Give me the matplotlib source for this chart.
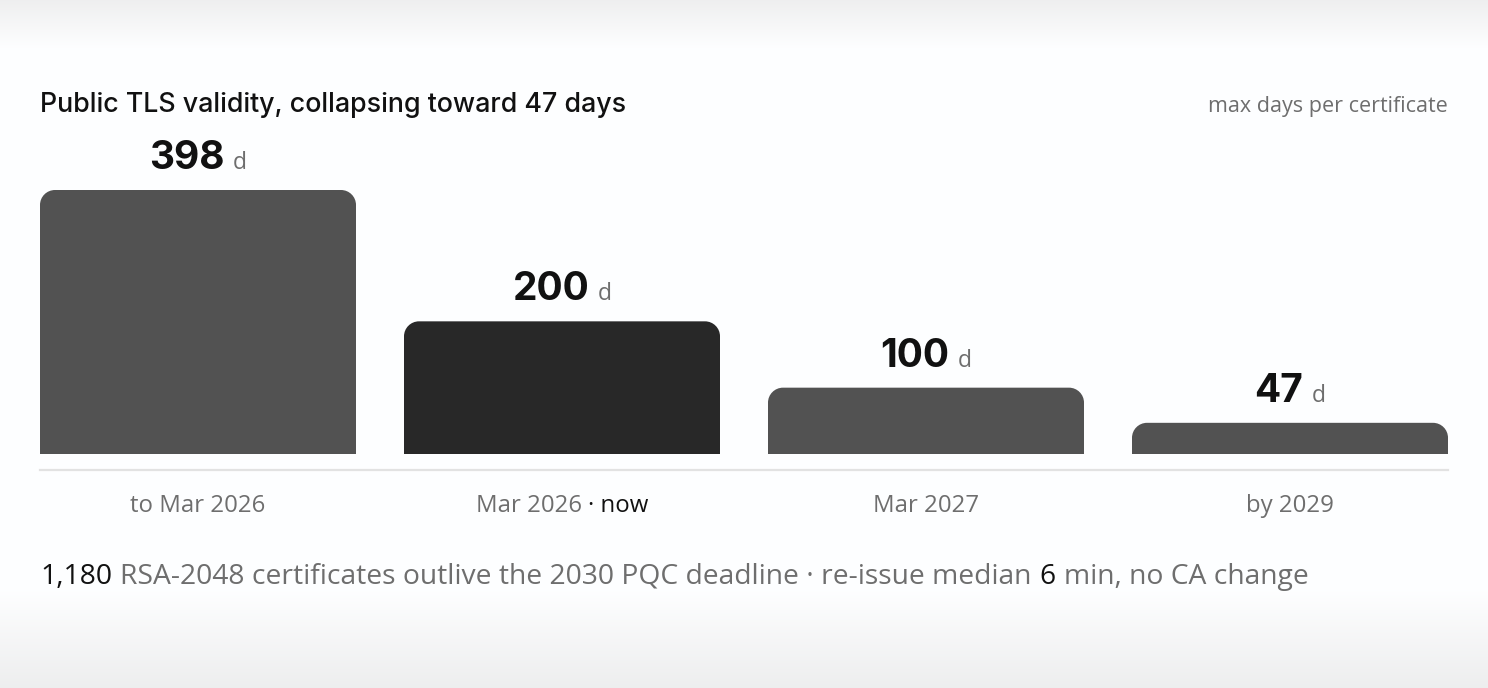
import numpy as np
import matplotlib
matplotlib.use("Agg")
import matplotlib.pyplot as plt
from matplotlib.path import Path
from matplotlib.patches import PathPatch
from matplotlib.transforms import IdentityTransform

# data
periods = ["to Mar 2026", "Mar 2026", "Mar 2027", "by 2029"]
period_notes = ["", "· now", "", ""]
max_days = [398, 200, 100, 47]
highlight = 1
unit = "d"
title = "Public TLS validity, collapsing toward 47 days"
unit_note = "max days per certificate"
footer_runs = [("1,180", True), ("RSA-2048 certificates outlive the 2030 PQC deadline · re-issue median", False),
               ("6", True), ("min, no CA change", False)]

W, H = 1488, 688
BAR = "#525252"
BAR_HI = "#282828"
GRAY = "#6e6e6e"
INK = "#111111"
TITLE_FONT = "Inter"
BODY_FONT = "Open Sans"

fig = plt.figure(figsize=(W / 100, H / 100), dpi=100)
fig.patch.set_facecolor("white")

# soft grey fade at top and bottom of the card
bg = fig.add_axes([0, 0, 1, 1], zorder=-10)
shade = np.ones(H)
top = np.arange(H) < 48
shade[top] = 0.94 + 0.06 * (np.arange(H)[top] / 48)
bot = np.arange(H) > 590
shade[bot] = 1 - 0.065 * ((np.arange(H)[bot] - 590) / (H - 590))
img = np.stack([shade * 0.995, shade * 0.997, shade * 1.0], axis=-1)[:, None, :]
img = np.clip(img, 0, 1)
bg.imshow(np.repeat(img, 4, axis=1), aspect="auto", extent=[0, 1, 0, 1])
bg.axis("off")

# main bar area: from the baseline (y=454) up to the tallest bar top
left, right, base_y, top_y = 40, 1448, 454, 190
ax = fig.add_axes([left / W, (H - base_y) / H, (right - left) / W, (base_y - top_y) / H])
x = np.arange(len(periods))
step = (right - left + 48) / len(periods)
bw = (step - 48) / step
ax.set_xlim(-bw / 2, len(periods) - 1 + bw / 2)
ax.set_ylim(0, max(max_days))
ax.axis("off")

bars = ax.bar(x, max_days, width=bw, color=BAR)
px_x = ax.transData.transform((1, 0))[0] - ax.transData.transform((0, 0))[0]
px_y = ax.transData.transform((0, 1))[1] - ax.transData.transform((0, 0))[1]
r = 15
k = 0.5523
for i, b in enumerate(bars):
    x0, w, h = b.get_x(), b.get_width(), b.get_height()
    x1 = x0 + w
    rx, ry = r / px_x, r / px_y
    verts = [(x0, 0), (x0, h - ry),
             (x0, h - ry + k * ry), (x0 + rx - k * rx, h), (x0 + rx, h),
             (x1 - rx, h),
             (x1 - rx + k * rx, h), (x1, h - ry + k * ry), (x1, h - ry),
             (x1, 0), (x0, 0)]
    codes = [Path.MOVETO, Path.LINETO,
             Path.CURVE4, Path.CURVE4, Path.CURVE4,
             Path.LINETO,
             Path.CURVE4, Path.CURVE4, Path.CURVE4,
             Path.LINETO, Path.CLOSEPOLY]
    b.set_visible(False)
    ax.add_patch(PathPatch(Path(verts, codes), facecolor=BAR_HI if i == highlight else BAR,
                           edgecolor="none"))

# thin rule under the bars
ax.plot([0, 1], [-16 / (base_y - top_y)] * 2, transform=ax.transAxes, color="#e2e2e2",
        lw=1.6, clip_on=False)

renderer = fig.canvas.get_renderer()


def place_runs(runs, xpos, ypos, ha="left"):
    # runs: (text, gap_before_px, text kwargs); xpos/ypos in pixels, ypos = baseline
    texts = []
    for s, gap, kw in runs:
        t = fig.text(0, 0, s, transform=IdentityTransform(), ha="left", va="baseline", **kw)
        texts.append((t, gap))
    widths = [t.get_window_extent(renderer).width for t, _ in texts]
    total = sum(widths) + sum(g for _, g in texts)
    cur = xpos - total / 2 if ha == "center" else xpos - total if ha == "right" else xpos
    for (t, gap), w in zip(texts, widths):
        cur += gap
        t.set_position((cur, ypos))
        cur += w


# value labels above bars
for xi, v in zip(x, max_days):
    px, py = ax.transData.transform((xi, v))
    place_runs([(str(v), 0, dict(fontsize=28, fontweight="bold", color=INK, family=TITLE_FONT)),
                (unit, 8, dict(fontsize=16.5, color=GRAY, family=BODY_FONT))],
               px, py + 21, ha="center")

# category labels
for xi, lab, note in zip(x, periods, period_notes):
    px = ax.transData.transform((xi, 0))[0]
    runs = [(lab, 0, dict(fontsize=17.3, color=GRAY, family=BODY_FONT))]
    if note:
        runs.append((note, 6, dict(fontsize=17.3, color=INK, family=BODY_FONT)))
    place_runs(runs, px, H - 512, ha="center")

# title and unit note
fig.text(left, H - 112, title, transform=IdentityTransform(), ha="left", va="baseline",
         fontsize=19.3, fontweight="medium", color=INK, family=TITLE_FONT)
fig.text(right, H - 112, unit_note, transform=IdentityTransform(), ha="right", va="baseline",
         fontsize=15.5, color=GRAY, family=BODY_FONT)

# footer line
runs = []
for i, (s, strong) in enumerate(footer_runs):
    runs.append((s, 0 if i == 0 else 8,
                 dict(fontsize=20.3, color=INK if strong else GRAY, family=BODY_FONT)))
place_runs(runs, left, H - 584)

fig.savefig("out.png", dpi=100)
